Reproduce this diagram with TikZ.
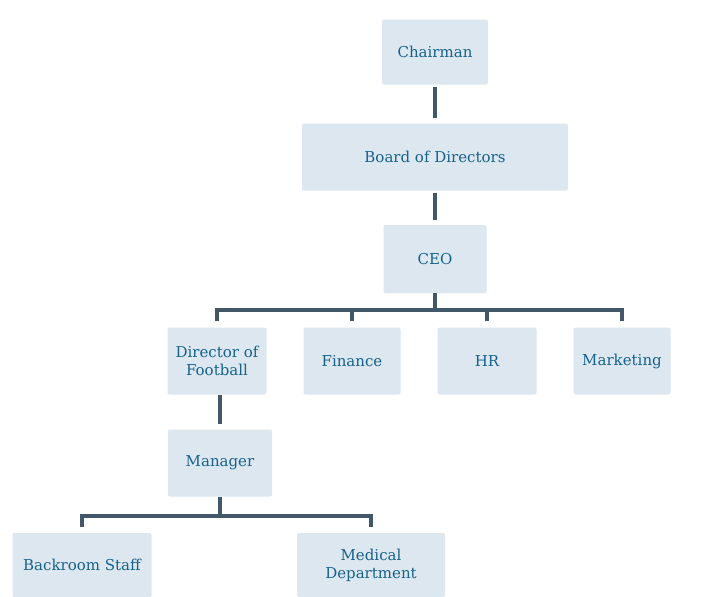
\documentclass[tikz,border=0pt]{standalone}
\usepackage{fontspec}
\setmainfont{DejaVu Serif}
\usepackage{tikz}
\usetikzlibrary{positioning}
\definecolor{boxfill}{RGB}{221,231,239}
\definecolor{boxtext}{RGB}{22,98,140}
\definecolor{linkcol}{RGB}{66,88,104}
\tikzstyle{post}=[rectangle, rounded corners=2pt, fill=boxfill, text=boxtext,
    align=center, inner sep=2pt, font=\fontsize{15}{18}\selectfont]
\tikzstyle{link}=[draw=linkcol, line width=3.5pt, shorten >=5pt]

\begin{document}
\begin{tikzpicture}[x=1pt, y=-1pt]
          \useasboundingbox[fill=white] (0,0) rectangle (713,597);
          \node[post, minimum width=106pt, minimum height=65pt] (chairman) at (435,52){Chairman};
          \node[post, minimum width=266pt, minimum height=67pt] (board) at (435,157){Board of Directors};
          \node[post, minimum width=103pt, minimum height=68pt] (ceo) at (435,259){CEO};
          \draw[link, shorten <=2pt](chairman) -- (board);
          \draw[link, shorten <=2pt](board) -- (ceo);
          \node[post, minimum width=99pt, minimum height=67pt] (dof) at (217,361){Director of\\Football};
          \node[post, minimum width=97pt, minimum height=67pt] (finance) at (352,361){Finance};
          \node[post, minimum width=99pt, minimum height=67pt] (hr) at (487,361){HR};
          \node[post, minimum width=97pt, minimum height=67pt] (marketing) at (622,361){Marketing};
          \coordinate (bar0) at (435,310);
          \draw[link, shorten >=0pt](ceo) -- (bar0);
          \draw[link, shorten >=0pt, shorten <=6pt](dof.north) |- (bar0);
          \draw[link, shorten >=0pt, shorten <=6pt](finance.north) |- (bar0);
          \draw[link, shorten >=0pt, shorten <=6pt](hr.north) |- (bar0);
          \draw[link, shorten >=0pt, shorten <=6pt](marketing.north) |- (bar0);
          \node[post, minimum width=104pt, minimum height=67pt] (manager) at (220,463){Manager};
          \draw[link, shorten <=0pt](dof.south -| manager) -- (manager);
          \node[post, minimum width=139pt, minimum height=64pt] (backroom) at (82,565){Backroom Staff};
          \node[post, minimum width=148pt, minimum height=64pt] (medical) at (371,565){Medical\\Department};
          \coordinate (bar1) at (220,516);
          \draw[link, shorten >=0pt](manager) -- (bar1);
          \draw[link, shorten >=0pt, shorten <=6pt](backroom.north) |- (bar1);
          \draw[link, shorten >=0pt, shorten <=6pt](medical.north) |- (bar1);
        \end{tikzpicture}
\end{document}
